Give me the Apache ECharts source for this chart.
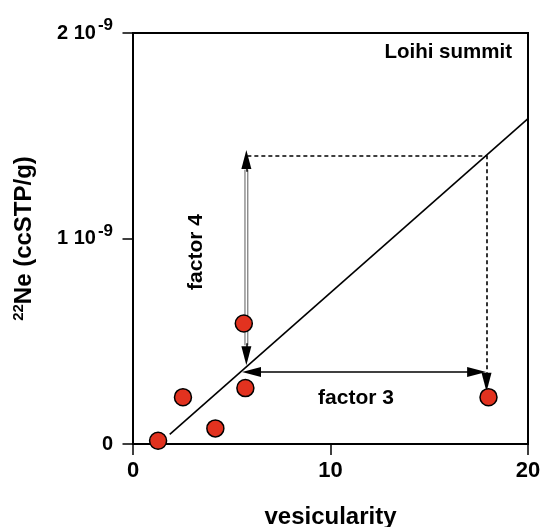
<!DOCTYPE html>
<html><head><meta charset="utf-8">
<script src="https://cdn.jsdelivr.net/npm/echarts@6/dist/echarts.min.js"></script>
<style>html,body{margin:0;padding:0;background:#fff}#c{width:545px;height:527px}</style>
</head><body><div id="c"></div>
<script>
// values in units of 1e-9 ccSTP/g
const vesicularity = [1.27, 2.53, 4.17, 5.61, 5.69, 18.0];
const ne22 = [0.016, 0.228, 0.076, 0.586, 0.272, 0.228];
const fitX = [1.86, 20];
const fitY = [0.047, 1.583];
const xTicks = [0, 10, 20];
const yTicks = [0, 1, 2];
// annotation geometry (data units)
const f4X = 5.74, f4Bottom = 0.43, f4Top = 1.385;
const dashY = 1.405, dashX0 = 5.79, dashX1 = 17.9, dashEnd = 0.30;
const f3Y = 0.35, f3X0 = 6.0, f3X1 = 17.4;

const FONT = 'Liberation Sans, Arial, Helvetica, sans-serif';
const chart = echarts.init(document.getElementById('c'));
const arrowSym = 'triangle';
chart.setOption({
  animation: false,
  grid: {left: 133, right: 17, top: 33, bottom: 83, show: true, borderColor: '#000', borderWidth: 2,
         containLabel: false, outerBoundsMode: 'none'},
  xAxis: {
    type: 'value', min: xTicks[0], max: xTicks[2], interval: 10,
    axisLine: {lineStyle: {color: '#000', width: 2}},
    axisTick: {length: 11, lineStyle: {color: '#000', width: 1.5}},
    splitLine: {show: false},
    axisLabel: {color: '#000', fontFamily: FONT, fontWeight: 'bold', fontSize: 22, margin: 16},
    name: 'vesicularity', nameLocation: 'middle', nameGap: 61,
    nameTextStyle: {color: '#000', fontFamily: FONT, fontWeight: 'bold', fontSize: 24}
  },
  yAxis: {
    type: 'value', min: yTicks[0], max: yTicks[2], interval: 1,
    axisLine: {lineStyle: {color: '#000', width: 2}},
    axisTick: {length: 10.5, lineStyle: {color: '#000', width: 1.5}},
    splitLine: {show: false},
    axisLabel: {
      color: '#000', fontFamily: FONT, fontWeight: 'bold', fontSize: 20, margin: 20,
      formatter: v => v === 0 ? '0' : v + ' 10{sup|-9}',
      rich: {sup: {fontSize: 17, fontWeight: 'bold', fontFamily: FONT, color: '#000', padding: [0, 0, 15, 2]}}
    },
    name: '{sup|22}Ne (ccSTP/g)', nameLocation: 'middle', nameGap: 95, nameRotate: 90,
    nameTextStyle: {color: '#000', fontFamily: FONT, fontWeight: 'bold', fontSize: 24,
      rich: {sup: {fontSize: 15, fontWeight: 'bold', fontFamily: FONT, color: '#000', padding: [0, 0, 12, 0]}}}
  },
  series: [
    {type: 'line', data: fitX.map((x, i) => [x, fitY[i]]), symbol: 'none',
     lineStyle: {color: '#000', width: 1.6}, z: 2},
    // factor 4 hollow shaft
    {type: 'line', data: [[f4X, f4Bottom + 0.05], [f4X, f4Top - 0.05]], symbol: 'none',
     lineStyle: {color: '#777', width: 4}, z: 3},
    {type: 'line', data: [[f4X, f4Bottom + 0.05], [f4X, f4Top - 0.05]], symbol: 'none',
     lineStyle: {color: '#fff', width: 1.6}, z: 3,
     markLine: {
       silent: true, symbol: 'none', label: {show: false}, animation: false,
       lineStyle: {color: '#000', width: 1.5, type: 'solid'},
       data: [
         [{coord: [f4X, f4Top - 0.06], symbol: 'none'}, {coord: [f4X, f4Top], symbol: arrowSym, symbolSize: [10, 19]}],
         [{coord: [f4X, f4Bottom + 0.06], symbol: 'none'}, {coord: [f4X, f4Bottom], symbol: arrowSym, symbolSize: [10, 19]}],
         [{coord: [dashX0, dashY], symbol: 'none'}, {coord: [dashX1, dashY], symbol: 'none', lineStyle: {type: [4, 3], width: 1.6}}],
         [{coord: [dashX1, dashY], symbol: 'none'}, {coord: [dashX1, dashEnd], symbol: arrowSym, symbolSize: [10, 19], lineStyle: {type: [4, 3], width: 1.6}}],
         [{coord: [f3X0, f3Y], symbol: arrowSym, symbolSize: [10, 19]}, {coord: [f3X1, f3Y], symbol: arrowSym, symbolSize: [10, 19]}]
       ]
     }},
    {type: 'scatter', data: vesicularity.map((x, i) => [x, ne22[i]]), symbol: 'circle', symbolSize: 17,
     itemStyle: {color: '#e2321f', borderColor: '#000', borderWidth: 1.5, opacity: 1}, z: 5}
  ],
  graphic: [
    {type: 'text', x: 512, y: 52, style: {text: 'Loihi summit', font: 'bold 20.5px ' + FONT, fill: '#000', align: 'right', verticalAlign: 'middle'}},
    {type: 'text', x: 356, y: 398, style: {text: 'factor 3', font: 'bold 21px ' + FONT, fill: '#000', align: 'center', verticalAlign: 'middle'}},
    {type: 'text', x: 196, y: 252, rotation: Math.PI / 2, style: {text: 'factor 4', font: 'bold 21px ' + FONT, fill: '#000', align: 'center', verticalAlign: 'middle'}}
  ]
});
</script></body></html>
